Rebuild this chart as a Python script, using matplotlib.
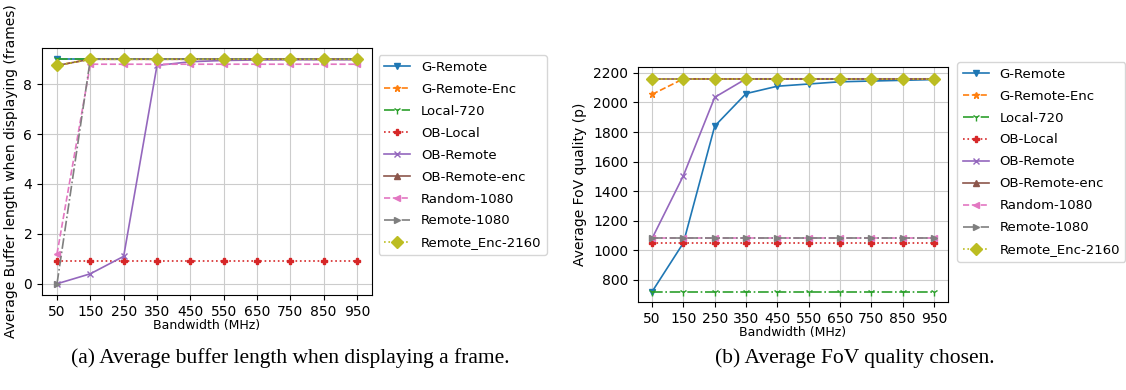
import matplotlib
matplotlib.use('Agg')
import matplotlib.pyplot as plt

plt.rcParams['font.family'] = ['DejaVu Sans']

bandwidth = [50, 150, 250, 350, 450, 550, 650, 750, 850, 950]
labels = ['G-Remote', 'G-Remote-Enc', 'Local-720', 'OB-Local', 'OB-Remote',
          'OB-Remote-enc', 'Random-1080', 'Remote-1080', 'Remote_Enc-2160']

# average buffer length (frames)
buf_g_remote = [9.0, 9.0, 9.0, 9.0, 9.0, 9.0, 9.0, 9.0, 9.0, 9.0]
buf_g_remote_enc = [8.75, 9.0, 9.0, 9.0, 9.0, 9.0, 9.0, 9.0, 9.0, 9.0]
buf_local_720 = [9.0, 9.0, 9.0, 9.0, 9.0, 9.0, 9.0, 9.0, 9.0, 9.0]
buf_ob_local = [0.9, 0.9, 0.9, 0.9, 0.9, 0.9, 0.9, 0.9, 0.9, 0.9]
buf_ob_remote = [0.0, 0.4, 1.1, 8.75, 8.9, 8.95, 8.97, 8.98, 8.98, 8.98]
buf_ob_remote_enc = [8.75, 9.0, 9.0, 9.0, 9.0, 9.0, 9.0, 9.0, 9.0, 9.0]
buf_random_1080 = [1.2, 8.8, 8.8, 8.8, 8.8, 8.8, 8.8, 8.8, 8.8, 8.8]
buf_remote_1080 = [0.0, 9.0, 9.0, 9.0, 9.0, 9.0, 9.0, 9.0, 9.0, 9.0]
buf_remote_enc_2160 = [8.75, 9.0, 9.0, 9.0, 9.0, 9.0, 9.0, 9.0, 9.0, 9.0]

# average FoV quality (p)
fov_g_remote = [720, 1050, 1840, 2060, 2110, 2125, 2140, 2145, 2150, 2155]
fov_g_remote_enc = [2055, 2160, 2160, 2160, 2160, 2160, 2160, 2160, 2160, 2160]
fov_local_720 = [720, 720, 720, 720, 720, 720, 720, 720, 720, 720]
fov_ob_local = [1050, 1050, 1050, 1050, 1050, 1050, 1050, 1050, 1050, 1050]
fov_ob_remote = [1080, 1505, 2035, 2160, 2160, 2160, 2160, 2160, 2160, 2160]
fov_ob_remote_enc = [2160, 2160, 2160, 2160, 2160, 2160, 2160, 2160, 2160, 2160]
fov_random_1080 = [1080, 1080, 1080, 1080, 1080, 1080, 1080, 1080, 1080, 1080]
fov_remote_1080 = [1080, 1080, 1080, 1080, 1080, 1080, 1080, 1080, 1080, 1080]
fov_remote_enc_2160 = [2160, 2160, 2160, 2160, 2160, 2160, 2160, 2160, 2160, 2160]

buf_series = [buf_g_remote, buf_g_remote_enc, buf_local_720, buf_ob_local, buf_ob_remote,
              buf_ob_remote_enc, buf_random_1080, buf_remote_1080, buf_remote_enc_2160]
fov_series = [fov_g_remote, fov_g_remote_enc, fov_local_720, fov_ob_local, fov_ob_remote,
              fov_ob_remote_enc, fov_random_1080, fov_remote_1080, fov_remote_enc_2160]

# (linestyle, marker, markersize) per scheme
styles = [('-', 'v', 5), ('--', '*', 5), ('-.', '1', 6), (':', 'P', 5), ('-', 'x', 5),
          ('-', '^', 5), ('--', '<', 5), ('-.', '>', 5), (':', 'D', 6)]

fig = plt.figure(figsize=(11.26, 3.9), dpi=100)
ax1 = fig.add_axes([42 / 1126, 1 - 295 / 390, 330 / 1126, 247 / 390])
ax2 = fig.add_axes([638 / 1126, 1 - 302 / 390, 310 / 1126, 235 / 390])


def draw(ax, series, ylabel, legend_anchor):
    for lab, ys, (ls, mk, ms) in zip(labels, series, styles):
        ax.plot(bandwidth, ys, linestyle=ls, marker=mk, markersize=ms, linewidth=1.2, label=lab)
    ax.set_xticks(bandwidth)
    ax.set_xlabel('Bandwidth (MHz)', fontsize=9, labelpad=0)
    ax.set_ylabel(ylabel, fontsize=10)
    ax.tick_params(labelsize=10)
    ax.grid(True, color='#cccccc')
    ax.legend(loc='upper left', bbox_to_anchor=legend_anchor, fontsize=9.5,
              handlelength=2.0, labelspacing=0.68, borderaxespad=0)


draw(ax1, buf_series, 'Average Buffer length when displaying (frames)', (1.02, 0.97))
draw(ax2, fov_series, 'Average FoV quality (p)', (1.03, 1.02))
ax1.set_yticks([0, 2, 4, 6, 8])
ax2.set_ylim(650, 2240)

fig.text(290 / 1126, 1 - 358 / 390, '(a) Average buffer length when displaying a frame.',
         ha='center', va='center', fontsize=15.5, family='Liberation Serif')
fig.text(855 / 1126, 1 - 358 / 390, '(b) Average FoV quality chosen.',
         ha='center', va='center', fontsize=15.5, family='Liberation Serif')

fig.savefig('out.png', dpi=100)
